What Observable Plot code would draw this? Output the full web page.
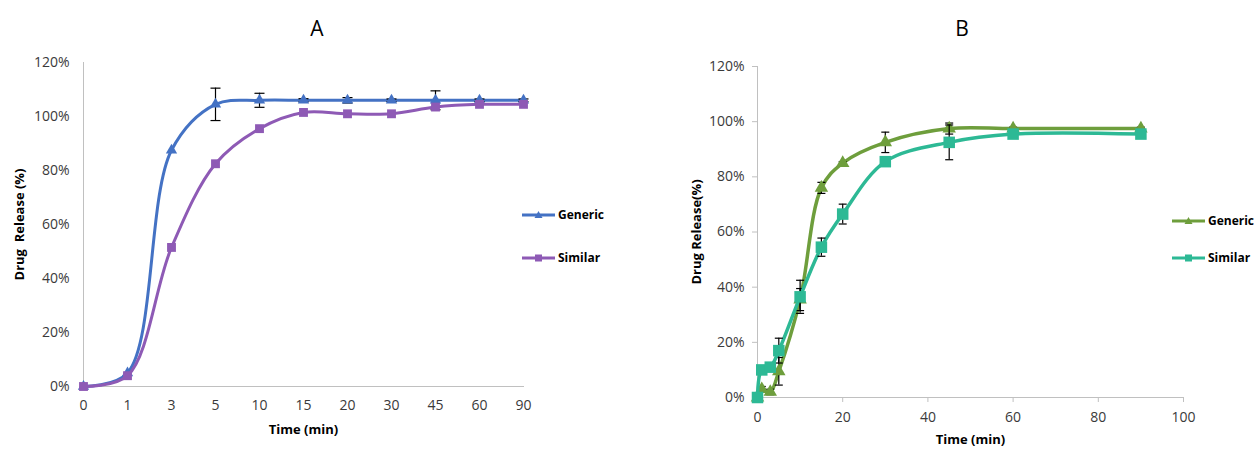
<!DOCTYPE html>
<html><head><meta charset="utf-8">
<script src="https://cdn.jsdelivr.net/npm/d3@7"></script>
<script src="https://cdn.jsdelivr.net/npm/@observablehq/plot@0.6"></script>
<style>
body{margin:0;background:#fff;font-family:"Open Sans",sans-serif;}
#wrap{position:relative;width:1254px;height:451px;overflow:hidden;background:#fff}
.panel{position:absolute;top:0}
.title{position:absolute;font-size:21px;color:#000;transform:translate(-50%,-50%);line-height:1}
.legend{position:absolute;font-size:12px;font-weight:bold;color:#000;display:flex;align-items:center;line-height:1}
.legend svg{margin-right:3px}
svg [aria-label="x-axis label"] text, svg [aria-label="y-axis label"] text{font-weight:bold;fill:#000;font-size:13px}
</style></head>
<body><div id="wrap"></div>
<script>
// ---- Panel A data (categorical time points) ----
const timeA = ["0","1","3","5","10","15","20","30","45","60","90"];
const genericA = [0, 5, 87.5, 104.5, 106, 106, 106, 106, 106, 106, 106];
const genericAErr = [0, 0, 0, 6, 2.6, 0.6, 1, 0.5, 3.5, 0.5, 0.5];
const similarA = [0, 4, 51.5, 82.5, 95.5, 101.5, 101, 101, 103.5, 104.5, 104.5];
const similarAErr = [0, 0, 0, 0, 0, 0, 0, 0, 0, 0, 0];
// ---- Panel B data (numeric time) ----
const timeB = [0, 1, 3, 5, 10, 15, 20, 30, 45, 60, 90];
const genericB = [0, 3, 2, 9.5, 35.5, 76, 85, 92.5, 97.5, 97.5, 97.5];
const genericBErr = [0, 1, 1, 5, 4, 2, 0.5, 3.7, 2, 0.5, 0.5];
const similarB = [0, 10, 11, 17, 36.5, 54.5, 66.5, 85.5, 92.5, 95.5, 95.5];
const similarBErr = [0, 1, 1, 4.5, 6, 3.3, 3.6, 1, 6.3, 0.5, 0.5];
const yTicks = [0, 20, 40, 60, 80, 100, 120];
const xTicksB = [0, 20, 40, 60, 80, 100];
const seriesNames = ["Generic", "Similar"];
const colorsA = ["#4472C4", "#8E5AB5"];
const colorsB = ["#6E9E3C", "#2DB995"];
const symbols = ["triangle", "square"];

const rows = (times, vals, errs) => times.map((t, i) => ({t, v: vals[i], e: errs[i]}));
const cap = w => ({draw(ctx) { ctx.moveTo(-w, 0); ctx.lineTo(w, 0); }});

function seriesMarks(data, color, symbol, r, sw, capW) {
  const errs = data.filter(d => d.e > 0);
  return [
    Plot.line(data, {x: "t", y: "v", stroke: color, strokeWidth: sw, curve: "catmull-rom"}),
    Plot.ruleX(errs, {x: "t", y1: d => d.v - d.e, y2: d => d.v + d.e, stroke: "#000", strokeWidth: 1.2}),
    Plot.dot(errs, {x: "t", y: d => d.v - d.e, symbol: cap(capW), stroke: "#000", strokeWidth: 1.2, fill: "none"}),
    Plot.dot(errs, {x: "t", y: d => d.v + d.e, symbol: cap(capW), stroke: "#000", strokeWidth: 1.2, fill: "none"}),
    Plot.dot(data, {x: "t", y: "v", symbol, r, fill: color, stroke: "none"})
  ];
}

const wrap = document.getElementById("wrap");
const font = {fontFamily: "'Open Sans', sans-serif", fontSize: "14px", color: "#3a3a3a", background: "white", overflow: "visible"};

const gA = rows(timeA, genericA, genericAErr), sA = rows(timeA, similarA, similarAErr);
const plotA = Plot.plot({
  width: 627, height: 451,
  marginLeft: 82, marginRight: 103, marginTop: 62, marginBottom: 65,
  style: font,
  x: {type: "point", domain: timeA, padding: 0},
  y: {domain: [0, 120]},
  marks: [
    Plot.ruleY([0], {stroke: "#c0c0c0"}),
    Plot.ruleX([timeA[0]], {stroke: "#c0c0c0"}),
    Plot.axisY({ticks: yTicks, tickSize: 0, tickPadding: 13, tickFormat: d => d + "%", label: "Drug  Release (%)", labelAnchor: "center", labelOffset: 68, labelArrow: "none"}),
    Plot.axisX({tickSize: 0, tickPadding: 14, label: "Time (min)", labelAnchor: "center", labelOffset: 47, labelArrow: "none"}),
    ...seriesMarks(gA, colorsA[0], symbols[0], 4.2, 3, 5),
    ...seriesMarks(sA, colorsA[1], symbols[1], 5, 3, 5)
  ]
});
plotA.classList.add("panel"); plotA.style.left = "0px";
wrap.appendChild(plotA);

const gB = rows(timeB, genericB, genericBErr), sB = rows(timeB, similarB, similarBErr);
const plotB = Plot.plot({
  width: 627, height: 451,
  marginLeft: 130, marginRight: 71, marginTop: 66, marginBottom: 54,
  style: font,
  x: {domain: [0, 100]},
  y: {domain: [0, 120]},
  marks: [
    Plot.ruleY([0], {stroke: "#c0c0c0"}),
    Plot.ruleX([0], {stroke: "#c0c0c0"}),
    Plot.axisY({ticks: yTicks, tickSize: 5, tickPadding: 8, stroke: "#c0c0c0", tickFormat: d => d + "%", label: "Drug Release(%)", labelAnchor: "center", labelOffset: 66, labelArrow: "none"}),
    Plot.axisX({ticks: xTicksB, tickSize: 5, tickPadding: 10, stroke: "#c0c0c0", tickFormat: d => d, label: "Time (min)", labelAnchor: "center", labelOffset: 46, labelArrow: "none"}),
    ...seriesMarks(gB, colorsB[0], symbols[0], 5, 3.5, 4),
    ...seriesMarks(sB, colorsB[1], symbols[1], 6.5, 3.5, 4)
  ]
});
plotB.classList.add("panel"); plotB.style.left = "627px";
wrap.appendChild(plotB);

// titles
[["A", 317], ["B", 962]].forEach(([t, x]) => {
  const d = document.createElement("div");
  d.className = "title"; d.textContent = t;
  d.style.left = x + "px"; d.style.top = "28px";
  wrap.appendChild(d);
});

// legends
function legend(x, ys, colors) {
  seriesNames.forEach((name, i) => {
    const d = document.createElement("div");
    d.className = "legend";
    d.style.left = x + "px"; d.style.top = (ys[i] - 7) + "px";
    const sym = i === 0
      ? `<path d="M16.5,3 L20.5,10 L12.5,10 Z" fill="${colors[i]}"/>`
      : `<rect x="13" y="3.5" width="7" height="7" fill="${colors[i]}"/>`;
    d.innerHTML = `<svg width="33" height="14"><line x1="0" x2="33" y1="7" y2="7" stroke="${colors[i]}" stroke-width="3"/>${sym}</svg><span>${name}</span>`;
    wrap.appendChild(d);
  });
}
legend(522, [215, 258], colorsA);
legend(1172, [221, 258], colorsB);
</script></body></html>
